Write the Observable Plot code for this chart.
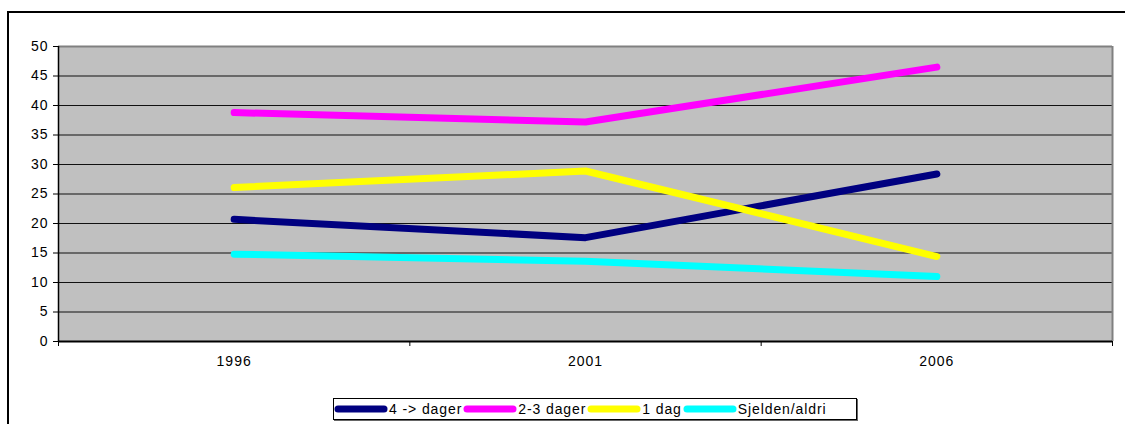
<!DOCTYPE html>
<html>
<head>
<meta charset="utf-8">
<script src="https://cdn.jsdelivr.net/npm/d3@7"></script>
<script src="https://cdn.jsdelivr.net/npm/@observablehq/plot@0.6"></script>
<style>
  html, body { margin: 0; padding: 0; background: #fff; }
  body { width: 1125px; height: 424px; position: relative; overflow: hidden; font-family: "Liberation Sans", Arial, sans-serif; }
  #frame { position: absolute; left: 7px; top: 11px; width: 1200px; height: 500px; border-left: 2px solid #000; border-top: 2px solid #000; box-sizing: border-box; }
  #chart { position: absolute; left: 0; top: 0; }
  #chart svg text { letter-spacing: 1px; }
  #legend { position: absolute; left: 333px; top: 398px; width: 524px; height: 22px; border: 1px solid #000; box-sizing: border-box; background: #fff; display: flex; align-items: center; font-size: 14px; letter-spacing: 0.9px; color: #000; box-shadow: 1px 1px 0 #666; }
  .item { display: flex; align-items: center; }
  .item svg { display: block; margin-right: 1px; }
  .item span { margin-right: 1px; }
</style>
</head>
<body>
<div id="frame"></div>
<div id="chart"></div>
<div id="legend"></div>
<script>
const years = [1996, 2001, 2006];
const seriesNames = ["4 -> dager", "2-3 dager", "1 dag", "Sjelden/aldri"];
const seriesColors = ["#000080", "#FF00FF", "#FFFF00", "#00FFFF"];
const fourPlus = [20.7, 17.6, 28.4];
const twoThree = [38.8, 37.2, 46.5];
const oneDay = [26.1, 28.9, 14.4];
const rarely = [14.8, 13.6, 11.0];
const yTicks = [0, 5, 10, 15, 20, 25, 30, 35, 40, 45, 50];

const seriesValues = [fourPlus, twoThree, oneDay, rarely];
const data = [];
seriesNames.forEach((name, i) => {
  years.forEach((yr, j) => data.push({series: name, year: yr, value: seriesValues[i][j]}));
});

const half = (years[1] - years[0]) / 2;
const xMin = years[0] - half, xMax = years[years.length - 1] + half;
const boundaries = [...years.map(y => y - half), xMax];

const font = '"Liberation Sans", Arial, sans-serif';

const chart = Plot.plot({
  width: 1125,
  height: 390,
  marginTop: 46,
  marginBottom: 49,
  marginLeft: 58,
  marginRight: 13,
  style: {fontFamily: font, fontSize: "14px", color: "#000", background: "transparent", overflow: "visible"},
  x: {type: "linear", domain: [xMin, xMax]},
  y: {domain: [0, 50]},
  color: {domain: seriesNames, range: seriesColors},
  marks: [
    Plot.frame({fill: "#C0C0C0", stroke: null}),
    Plot.ruleY(yTicks.filter(v => v > 0 && v < 50), {stroke: "#111", strokeWidth: 1}),
    Plot.ruleY([50], {stroke: "#808080", strokeWidth: 2}),
    Plot.ruleX([xMax], {stroke: "#808080", strokeWidth: 2}),
    Plot.axisY({ticks: yTicks, tickSize: 5, tickPadding: 5, label: null, stroke: "#000"}),
    Plot.axisX({ticks: boundaries, tickSize: 5, tickFormat: () => "", label: null, stroke: "#000"}),
    Plot.axisX({ticks: years, tickSize: 0, tickPadding: 15, tickFormat: d => String(d), label: null}),
    Plot.ruleX([xMin], {stroke: "#000", strokeWidth: 1.5}),
    Plot.ruleY([0], {stroke: "#000", strokeWidth: 2}),
    Plot.line(data, {x: "year", y: "value", z: "series", stroke: "series", strokeWidth: 7, strokeLinecap: "round", strokeLinejoin: "round"})
  ]
});
document.getElementById("chart").appendChild(chart);

const legend = d3.select("#legend");
seriesNames.forEach((name, i) => {
  const item = legend.append("div").attr("class", "item");
  const s = item.append("svg").attr("width", 54).attr("height", 10);
  s.append("line").attr("x1", 4).attr("x2", 50).attr("y1", 5).attr("y2", 5)
    .attr("stroke", seriesColors[i]).attr("stroke-width", 7).attr("stroke-linecap", "round");
  item.append("span").text(name);
});
</script>
</body>
</html>
